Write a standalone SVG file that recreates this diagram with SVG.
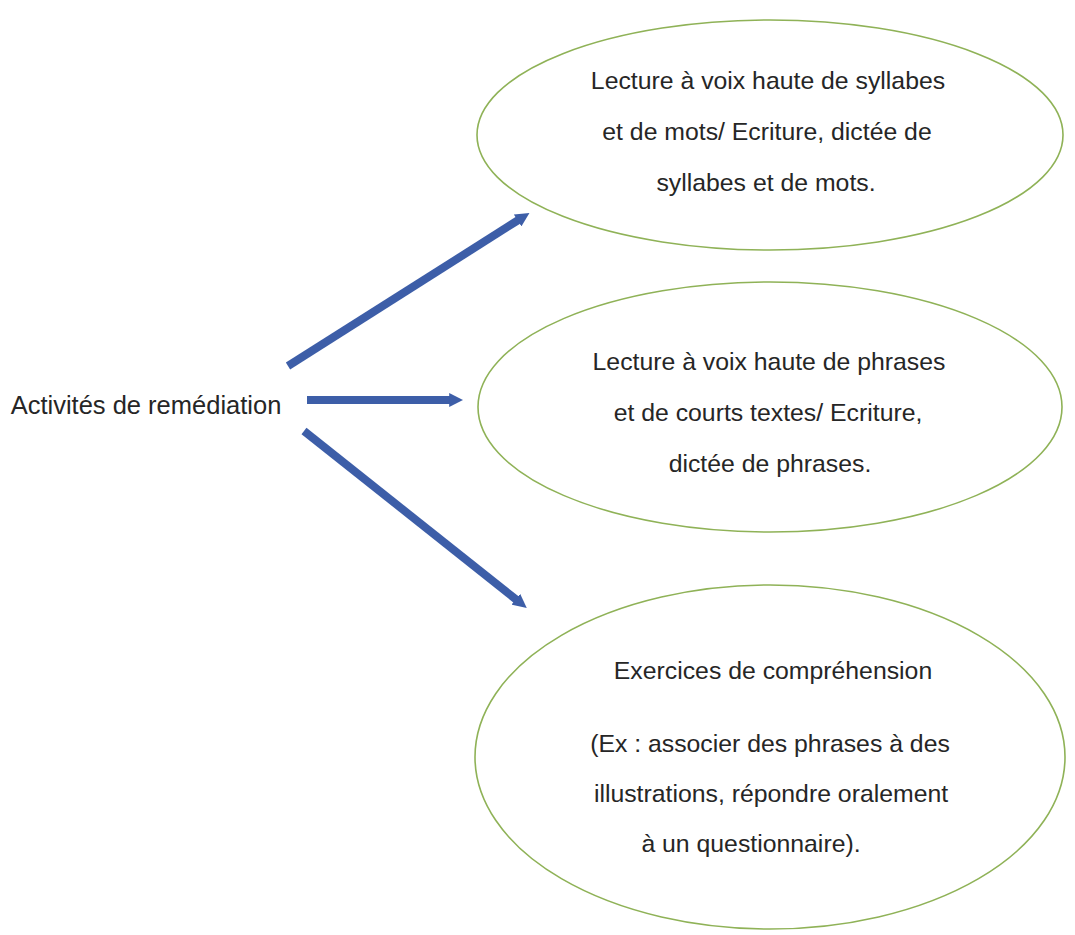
<svg xmlns="http://www.w3.org/2000/svg" width="1075" height="935" viewBox="0 0 1075 935">
<style>
.n{fill:#ffffff;stroke:#8fb257;stroke-width:1.6}
.t{font-family:"Liberation Sans",Arial,sans-serif;font-size:24.8px;fill:#262626;text-anchor:middle}
.c{stroke:#3d5ea8;stroke-width:8;fill:none}
</style>
<defs>
<marker id="ah" viewBox="0 0 10 10" refX="2" refY="5" markerWidth="14" markerHeight="14" markerUnits="userSpaceOnUse" orient="auto">
<path d="M0,0 L10,5 L0,10 Z" fill="#3d5ea8"/>
</marker>
</defs>
<rect width="1075" height="935" fill="#ffffff"/>
<g id="connectors">
<line class="c" x1="288" y1="366" x2="520" y2="219" marker-end="url(#ah)"/>
<line class="c" x1="307" y1="400" x2="452" y2="400" marker-end="url(#ah)"/>
<line class="c" x1="304" y1="431" x2="518" y2="601" marker-end="url(#ah)"/>
</g>
<g id="source">
<text class="t" x="146" y="414" style="font-size:25.5px">Activités de remédiation</text>
</g>
<g id="node1">
<ellipse class="n" cx="770" cy="135" rx="293" ry="115"/>
<text class="t" x="768" y="89">Lecture à voix haute de syllabes</text>
<text class="t" x="767" y="140">et de mots/ Ecriture, dictée de</text>
<text class="t" x="766" y="191">syllabes et de mots.</text>
</g>
<g id="node2">
<ellipse class="n" cx="770" cy="407" rx="292" ry="125"/>
<text class="t" x="769" y="370">Lecture à voix haute de phrases</text>
<text class="t" x="768" y="421">et de courts textes/ Ecriture,</text>
<text class="t" x="770" y="472">dictée de phrases.</text>
</g>
<g id="node3">
<ellipse class="n" cx="770" cy="757" rx="295" ry="172"/>
<text class="t" x="773" y="679">Exercices de compréhension</text>
<text class="t" x="770" y="752">(Ex : associer des phrases à des</text>
<text class="t" x="771" y="802">illustrations, répondre oralement</text>
<text class="t" x="751" y="852">à un questionnaire).</text>
</g>
</svg>
